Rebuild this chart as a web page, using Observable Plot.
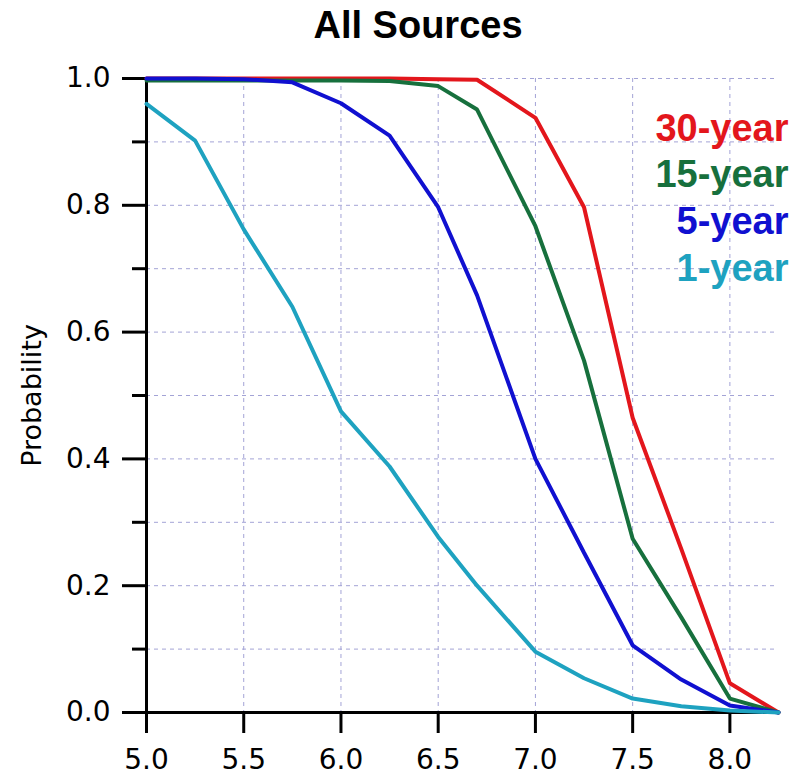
<!DOCTYPE html>
<html>
<head>
<meta charset="utf-8">
<script src="https://cdn.jsdelivr.net/npm/d3@7"></script>
<script src="https://cdn.jsdelivr.net/npm/@observablehq/plot@0.6"></script>
<style>
  html, body { margin: 0; padding: 0; background: #fff; }
  #wrap { width: 806px; height: 780px; position: relative; }
  #title { width: 806px; height: 50px; box-sizing: border-box; padding-left: 30px; text-align: center;
           font-family: "Liberation Sans", Arial, sans-serif; font-weight: bold; font-size: 38px; line-height: 50px; color: #000; }
</style>
</head>
<body>
<div id="wrap">
  <div id="title">All Sources</div>
  <div id="chart"></div>
</div>
<script>
const magnitudes = [5.0, 5.25, 5.5, 5.75, 6.0, 6.25, 6.5, 6.7, 7.0, 7.25, 7.5, 7.75, 8.0, 8.25];
const p30year = [1.0, 1.0, 1.0, 1.0, 1.0, 1.0, 0.999, 0.998, 0.938, 0.797, 0.465, 0.258, 0.046, 0.0];
const p15year = [0.997, 0.997, 0.997, 0.997, 0.997, 0.996, 0.988, 0.951, 0.767, 0.555, 0.274, 0.150, 0.022, 0.0];
const p5year  = [1.0, 1.0, 0.999, 0.994, 0.961, 0.910, 0.797, 0.658, 0.400, 0.252, 0.106, 0.052, 0.011, 0.0];
const p1year  = [0.960, 0.902, 0.762, 0.640, 0.475, 0.388, 0.277, 0.200, 0.096, 0.054, 0.022, 0.010, 0.003, 0.0];

const seriesNames = ["30-year", "15-year", "5-year", "1-year"];
const seriesValues = [p30year, p15year, p5year, p1year];
const seriesColors = ["#e3161c", "#17703d", "#1010d0", "#1ea2c0"];

const xTicks = [5.0, 5.5, 6.0, 6.5, 7.0, 7.5, 8.0];
const xGrid = [5.5, 6.0, 6.5, 7.0, 7.5, 8.0];
const yMajor = [0, 0.2, 0.4, 0.6, 0.8, 1.0];
const yMinor = [0.1, 0.3, 0.5, 0.7, 0.9];
const yGrid = [0.1, 0.2, 0.3, 0.4, 0.5, 0.6, 0.7, 0.8, 0.9, 1.0];

const rows = [];
seriesNames.forEach((name, i) => {
  magnitudes.forEach((m, j) => rows.push({series: name, mag: m, p: seriesValues[i][j]}));
});

const gridStyle = {stroke: "#a3a3d6", strokeWidth: 1, strokeDasharray: "4,4"};

const legendMarks = seriesNames.map((name, i) =>
  Plot.text([name], {
    frameAnchor: "top-right", text: d => d, textAnchor: "end", lineAnchor: "bottom",
    dx: 10, dy: 62 + i * 46.7, fill: seriesColors[i],
    fontFamily: "Liberation Sans, Arial, sans-serif", fontWeight: "bold", fontSize: 38
  })
);

const chart = Plot.plot({
  width: 806,
  height: 730,
  marginTop: 28,
  marginBottom: 68,
  marginLeft: 146,
  marginRight: 28,
  style: {fontFamily: "DejaVu Sans, sans-serif", fontSize: "28px", color: "#000", background: "#fff", overflow: "visible"},
  x: {domain: [5, 8.25]},
  y: {domain: [0, 1]},
  color: {domain: seriesNames, range: seriesColors},
  marks: [
    Plot.ruleX(xGrid, gridStyle),
    Plot.ruleY(yGrid, gridStyle),
    Plot.axisX({ticks: xTicks, tickFormat: d3.format(".1f"), tickSize: 21, tickPadding: 16, strokeWidth: 3, label: null, fontSize: 28}),
    Plot.axisY({ticks: yMajor, tickFormat: d3.format(".1f"), tickSize: 24, tickPadding: 12, strokeWidth: 3, label: null, fontSize: 28}),
    Plot.axisY({ticks: yMinor, tickFormat: () => "", tickSize: 14, strokeWidth: 3, label: null}),
    Plot.ruleX([5], {stroke: "#000", strokeWidth: 3}),
    Plot.ruleY([0], {stroke: "#000", strokeWidth: 3}),
    Plot.line(rows, {x: "mag", y: "p", z: "series", stroke: "series", strokeWidth: 4, strokeLinejoin: "miter"}),
    ...legendMarks,
    Plot.text(["Probability"], {
      frameAnchor: "left", text: d => d, rotate: -90, dx: -114, textAnchor: "middle", lineAnchor: "middle",
      fontFamily: "DejaVu Sans, sans-serif", fontSize: 27, fill: "#000"
    })
  ]
});
document.getElementById("chart").appendChild(chart);
</script>
</body>
</html>
